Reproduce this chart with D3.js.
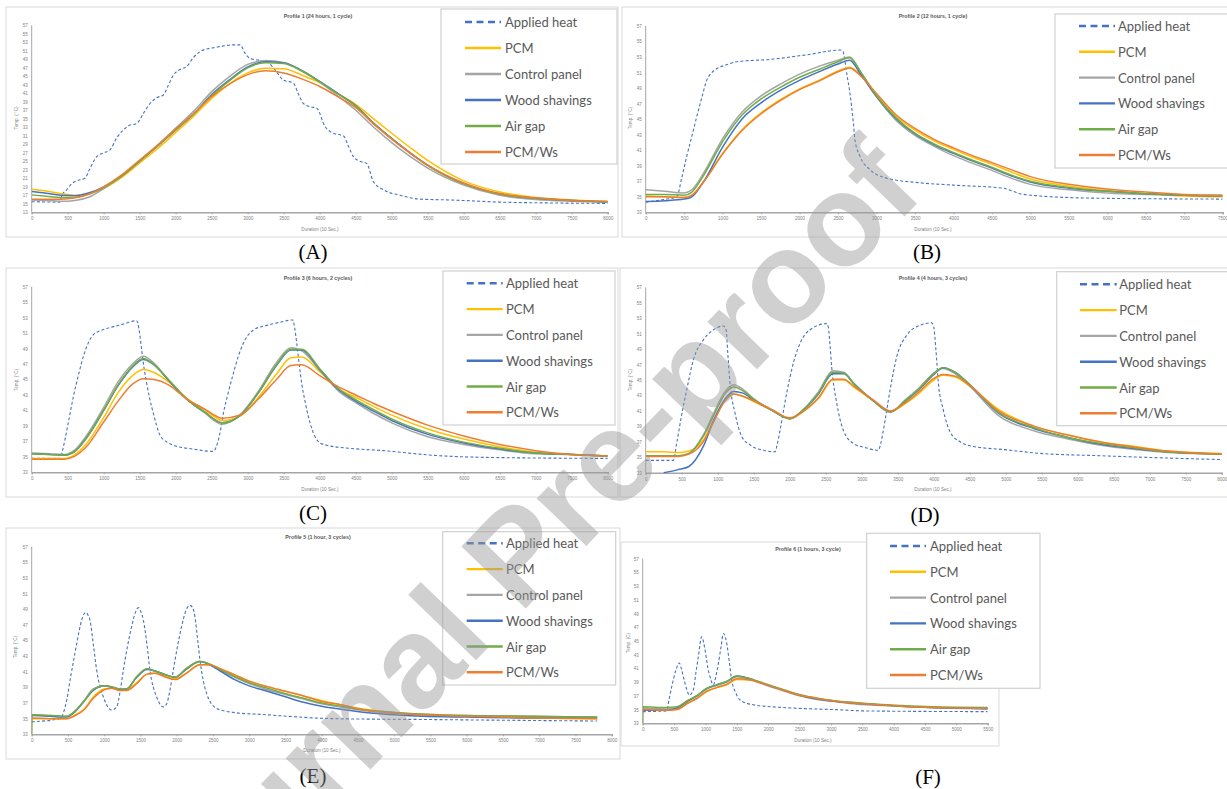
<!DOCTYPE html>
<html>
<head>
<meta charset="utf-8">
<script src="https://cdn.jsdelivr.net/npm/d3@7"></script>
<style>
  body { margin: 0; background: #fff; }
  svg { display: block; }
</style>
</head>
<body>
<div id="chart"></div>
<script>
// series shared by all six profiles
const seriesNames = ["Applied heat", "PCM", "Control panel", "Wood shavings", "Air gap", "PCM/Ws"];
const seriesColors = ["#4472C4", "#FFC000", "#A5A5A5", "#4472C4", "#70AD47", "#ED7D31"];

// Profile 1 (24 hours, 1 cycle)
const p1HeatT = [0, 390, 420, 486, 560, 625, 740, 800, 903, 1000, 1088, 1180, 1250, 1350, 1458, 1560, 1644, 1740, 1829, 1900, 1968, 2060, 2153, 2250, 2338, 2450, 2523, 2650, 2800, 2894, 2960, 3033, 3150, 3264, 3380, 3496, 3634, 3700, 3773, 3880, 3958, 4074, 4190, 4329, 4400, 4468, 4560, 4653, 4746, 4885, 5116, 5394, 5810, 6504, 7200, 8000];
const p1HeatV = [15.5, 15.4, 17.0, 18.3, 19.8, 20.4, 21.0, 23.0, 26.1, 27.0, 27.7, 30.5, 32.0, 33.4, 33.9, 36.5, 38.6, 40.0, 40.6, 43.0, 45.3, 46.6, 47.3, 49.5, 50.8, 51.5, 51.7, 52.1, 52.4, 52.4, 50.5, 49.2, 48.8, 48.5, 46.5, 44.1, 43.4, 41.0, 38.6, 37.8, 37.5, 33.2, 31.6, 31.0, 28.5, 26.1, 25.0, 24.5, 20.2, 18.3, 17.0, 16.1, 15.9, 15.4, 15.2, 15.1];
const p1T = [0, 200, 400, 600, 800, 1000, 1250, 1500, 1750, 2000, 2250, 2500, 2750, 3000, 3250, 3500, 3750, 4000, 4250, 4500, 4750, 5000, 5250, 5500, 6000, 6500, 7000, 7500, 8000];
const p1Pcm     = [18.4, 18.0, 17.4, 17.0, 17.5, 18.6, 21.2, 24.6, 28.0, 31.8, 35.6, 39.8, 43.3, 45.8, 46.9, 46.8, 45.3, 43.5, 40.9, 38.4, 35.0, 31.6, 28.3, 25.2, 20.4, 17.8, 16.5, 15.9, 15.5];
const p1Control = [15.9, 15.8, 15.6, 15.8, 16.6, 18.6, 21.5, 25.0, 28.8, 32.8, 36.8, 41.4, 45.0, 47.8, 48.7, 48.2, 46.2, 43.6, 40.4, 37.0, 33.0, 29.4, 26.2, 23.4, 19.4, 17.0, 16.0, 15.6, 15.4];
const p1Wood    = [17.9, 17.5, 17.0, 16.9, 17.6, 19.0, 21.6, 25.1, 28.6, 32.4, 36.2, 40.7, 44.2, 47.2, 48.4, 48.2, 46.4, 43.8, 41.0, 38.1, 34.0, 30.4, 27.1, 24.1, 19.8, 17.3, 16.3, 15.8, 15.5];
const p1Air     = [17.1, 16.8, 16.5, 16.5, 17.3, 18.8, 21.5, 25.0, 28.6, 32.4, 36.1, 40.5, 44.0, 47.0, 48.2, 48.0, 46.3, 43.7, 40.9, 38.0, 33.8, 30.3, 27.0, 24.0, 19.7, 17.3, 16.3, 15.8, 15.5];
const p1PcmWs   = [16.1, 16.1, 16.1, 16.4, 17.3, 19.0, 21.8, 25.3, 28.8, 32.6, 36.2, 40.2, 43.2, 45.4, 46.3, 45.8, 44.4, 42.6, 40.2, 37.6, 33.8, 30.2, 27.0, 24.1, 19.9, 17.4, 16.4, 15.8, 15.6];

// Profile 2 (12 hours, 1 cycle)
const p2HeatT = [0, 200, 403, 470, 533, 600, 663, 730, 793, 860, 923, 1050, 1183, 1616, 2100, 2526, 2560, 2620, 2656, 2700, 2721, 2786, 2916, 3133, 3566, 3999, 4649, 4866, 5126, 5500, 6000, 7500];
const p2HeatV = [34.3, 34.6, 35.0, 37.5, 40.2, 42.8, 45.3, 47.8, 50.0, 51.0, 51.5, 52.0, 52.4, 52.7, 53.3, 53.9, 53.8, 50.5, 48.3, 44.5, 42.3, 40.2, 38.5, 37.4, 36.8, 36.5, 36.1, 35.4, 35.1, 34.9, 34.8, 34.7];
const p2T = [0, 250, 500, 600, 750, 1000, 1250, 1500, 1750, 2000, 2250, 2500, 2650, 2800, 3000, 3250, 3500, 3750, 4000, 4250, 4500, 4750, 5000, 5500, 6000, 6500, 7000, 7500];
const p2Pcm     = [35.1, 35.0, 34.9, 35.2, 36.9, 40.6, 43.6, 45.8, 47.5, 48.9, 50.0, 51.2, 51.7, 50.7, 48.2, 45.4, 43.6, 42.2, 41.1, 40.1, 39.2, 38.2, 37.3, 36.4, 35.8, 35.4, 35.1, 35.0];
const p2Control = [35.9, 35.7, 35.5, 35.9, 38.0, 42.5, 45.9, 48.0, 49.5, 50.8, 51.8, 52.6, 53.0, 51.0, 47.9, 44.9, 42.9, 41.5, 40.3, 39.3, 38.4, 37.4, 36.6, 35.9, 35.5, 35.3, 35.2, 35.2];
const p2Wood    = [34.4, 34.5, 34.7, 35.0, 36.9, 41.4, 45.0, 47.1, 48.7, 50.0, 51.1, 52.1, 52.6, 50.7, 47.9, 45.1, 43.1, 41.7, 40.6, 39.6, 38.7, 37.7, 36.9, 36.1, 35.7, 35.4, 35.2, 35.1];
const p2Air     = [35.3, 35.3, 35.2, 35.6, 37.7, 42.1, 45.5, 47.6, 49.1, 50.4, 51.4, 52.4, 52.9, 51.0, 48.0, 45.2, 43.2, 41.8, 40.7, 39.7, 38.8, 37.8, 37.0, 36.2, 35.7, 35.4, 35.2, 35.2];
const p2PcmWs   = [35.0, 35.0, 34.9, 35.2, 36.9, 40.5, 43.5, 45.7, 47.4, 48.8, 49.9, 51.1, 51.6, 50.5, 48.3, 45.6, 43.8, 42.4, 41.3, 40.3, 39.4, 38.5, 37.6, 36.6, 36.0, 35.6, 35.3, 35.1];

// Profile 3 (6 hours, 2 cycles)
const p3HeatT = [0, 393, 440, 510, 579, 650, 718, 790, 856, 950, 1042, 1250, 1458, 1490, 1528, 1560, 1597, 1640, 1690, 1782, 1880, 1968, 2245, 2523, 2560, 2593, 2630, 2662, 2730, 2801, 2870, 2940, 3079, 3264, 3450, 3625, 3650, 3681, 3715, 3750, 3800, 3843, 3935, 4004, 4097, 4421, 4884, 5574, 6504, 8000];
const p3HeatV = [34.8, 34.8, 36.3, 39.5, 42.8, 45.6, 48.0, 49.8, 50.8, 51.3, 51.6, 52.1, 52.6, 51.5, 48.8, 46.5, 44.5, 42.5, 40.6, 37.8, 36.9, 36.5, 36.0, 35.7, 36.2, 37.2, 38.8, 40.6, 43.3, 45.8, 48.0, 49.7, 51.4, 52.0, 52.4, 52.7, 51.8, 49.7, 47.0, 44.5, 42.0, 40.2, 37.6, 36.8, 36.5, 36.1, 35.8, 35.2, 34.9, 34.8];
const p3T = [0, 250, 450, 600, 750, 1000, 1200, 1400, 1550, 1700, 1900, 2150, 2400, 2650, 2900, 3150, 3400, 3600, 3750, 4000, 4250, 4500, 4750, 5000, 5500, 6000, 6500, 7000, 7500, 8000];
const p3Pcm     = [34.8, 34.8, 34.8, 35.3, 36.6, 40.1, 43.3, 45.5, 46.3, 45.9, 44.7, 42.6, 41.1, 39.7, 40.3, 42.7, 45.7, 47.8, 47.9, 46.0, 43.9, 42.7, 41.5, 40.4, 38.6, 37.3, 36.3, 35.6, 35.3, 35.1];
const p3Control = [35.5, 35.4, 35.3, 35.9, 37.6, 41.4, 44.7, 47.0, 48.0, 47.1, 44.9, 42.5, 40.7, 39.2, 40.5, 43.5, 47.2, 49.1, 48.7, 46.2, 43.6, 42.0, 40.6, 39.4, 37.6, 36.6, 35.9, 35.4, 35.3, 35.1];
const p3Wood    = [35.4, 35.3, 35.2, 35.7, 37.3, 41.0, 44.2, 46.6, 47.6, 46.9, 44.9, 42.5, 40.8, 39.4, 40.4, 43.3, 46.8, 48.8, 48.8, 46.3, 43.8, 42.2, 40.9, 39.7, 37.9, 36.8, 36.0, 35.5, 35.3, 35.1];
const p3Air     = [35.4, 35.3, 35.2, 35.7, 37.3, 41.0, 44.3, 46.7, 47.7, 46.9, 45.0, 42.5, 40.8, 39.4, 40.4, 43.3, 46.9, 48.9, 48.9, 46.4, 43.9, 42.4, 41.1, 39.9, 38.1, 36.9, 36.1, 35.5, 35.3, 35.1];
const p3PcmWs   = [34.7, 34.7, 34.7, 35.1, 36.2, 39.5, 42.2, 44.4, 45.1, 45.0, 44.3, 42.5, 41.2, 40.0, 40.4, 42.5, 45.0, 46.8, 46.9, 45.5, 44.1, 43.0, 41.9, 40.9, 39.1, 37.7, 36.6, 35.8, 35.3, 35.1];

// Profile 4 (4 hours, 3 cycles)
const p4HeatT = [0, 384, 430, 500, 569, 662, 801, 940, 1079, 1116, 1140, 1171, 1241, 1333, 1449, 1634, 1796, 1830, 1866, 1958, 2051, 2167, 2282, 2514, 2537, 2560, 2583, 2653, 2745, 2884, 3069, 3231, 3265, 3301, 3394, 3486, 3625, 3764, 3972, 4000, 4030, 4065, 4134, 4227, 4366, 4551, 4968, 5477, 6301, 7236, 8000];
const p4HeatV = [34.6, 34.6, 36.8, 40.5, 43.7, 47.6, 50.2, 51.5, 52.0, 51.5, 48.5, 44.6, 40.7, 37.7, 36.6, 35.9, 35.7, 36.8, 38.5, 43.3, 47.2, 50.2, 51.5, 52.3, 51.8, 49.5, 46.7, 42.0, 38.5, 36.8, 36.2, 35.9, 36.8, 38.5, 43.7, 48.0, 50.8, 51.9, 52.4, 51.9, 49.0, 44.6, 41.1, 38.3, 37.0, 36.4, 36.0, 35.5, 35.2, 34.9, 34.7];
const p4T = [0, 250, 450, 600, 800, 950, 1100, 1220, 1350, 1500, 1750, 2000, 2200, 2400, 2600, 2750, 2900, 3150, 3400, 3600, 3800, 4000, 4130, 4300, 4500, 4900, 5400, 5850, 6300, 6800, 7250, 8000];
const p4Pcm     = [35.7, 35.7, 35.6, 35.8, 37.2, 39.9, 42.3, 43.2, 42.9, 42.2, 41.1, 40.0, 41.0, 42.6, 45.0, 45.0, 44.0, 42.4, 40.9, 41.9, 43.3, 45.0, 45.6, 45.4, 44.2, 41.2, 39.0, 37.9, 37.0, 36.4, 35.8, 35.5];
const p4Control = [35.2, 35.2, 35.2, 35.5, 37.9, 40.8, 43.5, 44.4, 43.8, 42.6, 41.1, 40.0, 41.3, 43.5, 46.2, 46.0, 44.5, 42.4, 40.8, 42.4, 44.0, 45.9, 46.5, 45.8, 44.2, 40.4, 38.4, 37.4, 36.6, 36.0, 35.6, 35.4];
const p4Wood    = [null, 33.0, 33.4, 33.8, 36.4, 39.9, 42.5, 43.5, 43.3, 42.4, 41.1, 40.0, 41.2, 43.2, 45.8, 45.8, 44.4, 42.4, 40.9, 42.2, 43.8, 45.7, 46.6, 46.0, 44.4, 40.7, 38.7, 37.6, 36.7, 36.1, 35.7, 35.4];
const p4Air     = [35.2, 35.2, 35.2, 35.5, 37.7, 40.5, 43.2, 44.1, 43.6, 42.5, 41.1, 40.0, 41.2, 43.3, 46.0, 45.9, 44.4, 42.4, 40.9, 42.3, 43.9, 45.8, 46.6, 46.0, 44.4, 40.8, 38.8, 37.6, 36.8, 36.2, 35.7, 35.4];
const p4PcmWs   = [35.1, 35.1, 35.1, 35.4, 37.0, 39.7, 42.3, 43.2, 42.9, 42.3, 41.2, 40.1, 41.0, 42.7, 45.1, 45.1, 44.1, 42.5, 41.0, 42.0, 43.5, 45.2, 45.7, 45.5, 44.3, 41.0, 39.0, 37.9, 37.0, 36.3, 35.8, 35.4];

// Profile 5 (1 hour, 3 cycles)
const p5HeatT = [0, 391, 483, 540, 597, 650, 689, 749, 780, 804, 850, 896, 988, 1103, 1172, 1220, 1264, 1320, 1379, 1430, 1471, 1500, 1540, 1590, 1631, 1723, 1815, 1861, 1910, 1953, 2010, 2068, 2130, 2183, 2220, 2252, 2290, 2321, 2413, 2551, 2780, 3240, 4159, 5354, 6500, 7800];
const p5HeatV = [34.6, 35.0, 37.4, 40.5, 43.4, 46.0, 47.6, 48.6, 48.2, 47.6, 44.5, 41.2, 37.8, 36.1, 36.5, 38.5, 41.2, 44.2, 46.8, 48.6, 49.2, 48.8, 47.6, 44.5, 41.2, 37.8, 36.5, 36.9, 38.8, 41.2, 44.2, 46.8, 48.9, 49.5, 49.2, 48.0, 45.0, 42.5, 38.2, 36.3, 35.8, 35.5, 35.0, 34.9, 34.8, 34.7];
const p5T = [0, 5, 250, 480, 600, 720, 850, 1000, 1100, 1220, 1310, 1450, 1590, 1700, 1850, 1980, 2130, 2320, 2450, 2600, 2800, 3000, 3250, 3500, 3750, 4000, 4200, 4600, 5000, 5400, 6000, 6900, 7800];
const p5Pcm     = [35.0, 35.0, 35.0, 35.0, 35.5, 36.2, 37.8, 38.8, 38.9, 38.6, 38.7, 39.6, 40.7, 40.8, 40.4, 40.1, 40.8, 41.9, 41.9, 41.4, 40.6, 39.8, 39.1, 38.5, 37.9, 37.3, 36.9, 36.2, 35.8, 35.5, 35.3, 35.1, 35.0];
const p5Control = [35.5, 35.5, 35.4, 35.3, 36.0, 37.3, 38.8, 39.2, 39.1, 38.8, 38.8, 40.4, 41.4, 41.1, 40.6, 40.3, 41.4, 42.3, 42.0, 41.2, 40.3, 39.5, 38.7, 38.1, 37.5, 36.9, 36.6, 36.0, 35.7, 35.5, 35.4, 35.3, 35.2];
const p5Wood    = [35.4, 35.4, 35.3, 35.2, 35.9, 37.2, 38.6, 39.2, 39.0, 38.7, 38.8, 40.3, 41.3, 41.1, 40.6, 40.3, 41.3, 42.3, 41.9, 41.1, 40.0, 39.2, 38.5, 37.8, 37.1, 36.6, 36.3, 35.8, 35.5, 35.3, 35.2, 35.1, 35.1];
const p5Air     = [33.0, 35.5, 35.4, 35.3, 36.0, 37.2, 38.7, 39.2, 39.1, 38.8, 38.8, 40.4, 41.4, 41.1, 40.6, 40.3, 41.4, 42.3, 42.0, 41.3, 40.4, 39.6, 38.9, 38.2, 37.6, 37.0, 36.7, 36.1, 35.8, 35.6, 35.4, 35.3, 35.2];
const p5PcmWs   = [35.1, 35.1, 35.0, 35.0, 35.4, 36.1, 37.6, 38.7, 38.9, 38.6, 38.6, 39.5, 40.7, 40.8, 40.3, 40.0, 40.8, 41.9, 41.9, 41.4, 40.6, 39.8, 39.1, 38.5, 37.9, 37.2, 36.9, 36.1, 35.7, 35.5, 35.3, 35.1, 35.0];

// Profile 6 (1 hours, 3 cycle)
const p6HeatT = [0, 383, 420, 462, 531, 584, 615, 648, 700, 744, 808, 850, 887, 940, 994, 1040, 1073, 1126, 1165, 1206, 1250, 1286, 1339, 1380, 1419, 1480, 1552, 1764, 2242, 3039, 3571, 5500];
const p6HeatV = [34.7, 34.8, 36.5, 38.3, 40.8, 41.8, 41.0, 39.8, 38.0, 37.1, 37.9, 40.5, 42.7, 45.6, 43.7, 41.0, 39.8, 38.6, 39.8, 41.7, 44.2, 46.1, 44.7, 42.0, 39.3, 37.5, 36.4, 35.7, 35.3, 35.0, 34.8, 34.7];
const p6T = [0, 5, 380, 540, 730, 860, 1020, 1180, 1340, 1500, 1710, 1980, 2250, 2500, 2750, 3040, 3300, 3570, 4100, 4600, 5500];
const p6Pcm     = [34.9, 34.9, 34.9, 35.0, 36.0, 36.6, 37.6, 38.2, 38.6, 39.4, 39.3, 38.6, 37.8, 37.1, 36.7, 36.3, 36.0, 35.8, 35.5, 35.3, 35.2];
const p6Control = [35.2, 35.2, 35.1, 35.2, 36.3, 36.9, 38.0, 38.5, 39.0, 39.8, 39.4, 38.5, 37.7, 37.0, 36.5, 36.2, 35.9, 35.7, 35.5, 35.3, 35.2];
const p6Wood    = [34.9, 34.9, 34.9, 35.2, 36.3, 37.0, 38.1, 38.6, 39.1, 39.9, 39.5, 38.6, 37.8, 37.1, 36.6, 36.2, 36.0, 35.8, 35.5, 35.3, 35.1];
const p6Air     = [33.0, 35.4, 35.3, 35.4, 36.4, 37.0, 38.1, 38.6, 39.1, 39.9, 39.5, 38.7, 37.9, 37.2, 36.7, 36.3, 36.1, 35.9, 35.6, 35.4, 35.3];
const p6PcmWs   = [35.0, 35.0, 34.9, 35.0, 36.0, 36.6, 37.7, 38.2, 38.7, 39.5, 39.3, 38.6, 37.8, 37.1, 36.7, 36.3, 36.0, 35.8, 35.5, 35.3, 35.2];

const W = 1227, H = 789;
const svg = d3.select("#chart").append("svg").attr("width", W).attr("height", H);

// panel layout (pixel boxes), data hooked up from the arrays above
const panels = [
  { title: "Profile 1 (24 hours, 1 cycle)", label: "(A)", yTitle: "Temp. ( °C)",
    frame: [6, 7, 612, 230], plot: [31.7, 607.7, 25.3, 212.3], xMax: 8000, yMin: 13,
    titleXY: [318, 16], xTitleXY: [320, 229], yTitleXY: [16, 118],
    legend: [441, 9, 176, 155, 22, 26, 465, 501, 505], labelXY: [313, 252],
    heatT: p1HeatT, heatV: p1HeatV, t: p1T, vals: [p1Pcm, p1Control, p1Wood, p1Air, p1PcmWs] },
  { title: "Profile 2 (12 hours, 1 cycle)", label: "(B)", yTitle: "Temp. (°C)",
    frame: [622, 7, 610, 230], plot: [645.7, 1222.6, 26, 212.3], xMax: 7500, yMin: 33,
    titleXY: [933, 16], xTitleXY: [933, 229], yTitleXY: [630, 118],
    legend: [1055, 14, 180, 154, 26, 25.8, 1079, 1115, 1118], labelXY: [927, 252],
    heatT: p2HeatT, heatV: p2HeatV, t: p2T, vals: [p2Pcm, p2Control, p2Wood, p2Air, p2PcmWs] },
  { title: "Profile 3 (6 hours, 2 cycles)", label: "(C)", yTitle: "Temp. (°C)",
    frame: [6, 268, 612, 229], plot: [31.7, 607.7, 286.7, 472.3], xMax: 8000, yMin: 33,
    titleXY: [318, 278], xTitleXY: [320, 489], yTitleXY: [16, 380],
    legend: [443, 271, 172, 154, 283.3, 25.8, 466.7, 502.7, 506], labelXY: [313, 513],
    heatT: p3HeatT, heatV: p3HeatV, t: p3T, vals: [p3Pcm, p3Control, p3Wood, p3Air, p3PcmWs] },
  { title: "Profile 4 (4 hours, 3 cycles)", label: "(D)", yTitle: "Temp. (°C)",
    frame: [620, 268, 612, 229], plot: [645.7, 1221.7, 287.3, 472.7], xMax: 8000, yMin: 33,
    titleXY: [933, 278], xTitleXY: [933, 489], yTitleXY: [630, 380],
    legend: [1056.7, 271.7, 180, 154, 284.3, 25.8, 1080, 1116.7, 1119.3], labelXY: [925, 515],
    heatT: p4HeatT, heatV: p4HeatV, t: p4T, vals: [p4Pcm, p4Control, p4Wood, p4Air, p4PcmWs] },
  { title: "Profile 5 (1 hour, 3 cycles)", label: "(E)", yTitle: "Temp. (°C)",
    frame: [6, 528, 614, 231], plot: [31.7, 611.7, 546.7, 734.3], xMax: 8000, yMin: 33,
    titleXY: [318, 537], xTitleXY: [322, 750], yTitleXY: [15, 647],
    legend: [442.7, 531.7, 173, 153.3, 543.3, 25.8, 466.7, 502.7, 506], labelXY: [313, 776],
    heatT: p5HeatT, heatV: p5HeatV, t: p5T, vals: [p5Pcm, p5Control, p5Wood, p5Air, p5PcmWs] },
  { title: "Profile 6 (1 hours, 3 cycle)", label: "(F)", yTitle: "Temp. (C)",
    frame: [621, 542, 378, 204], plot: [642.7, 987.7, 558.7, 723.3], xMax: 5500, yMin: 33,
    titleXY: [808, 549], xTitleXY: [813, 740], yTitleXY: [628, 643],
    legend: [866.7, 533.3, 173.3, 155, 546, 25.8, 890, 926, 930], labelXY: [928, 777],
    heatT: p6HeatT, heatV: p6HeatV, t: p6T, vals: [p6Pcm, p6Control, p6Wood, p6Air, p6PcmWs] }
];

const tickFont = "'Liberation Sans', Arial, sans-serif";
const legendFont = "Lato, 'Open Sans', sans-serif";

function drawPanel(p, idx) {
  const g = svg.append("g");
  const [fx, fy, fw, fh] = p.frame;
  g.append("rect").attr("x", fx).attr("y", fy).attr("width", fw).attr("height", fh)
    .attr("fill", "#fff").attr("stroke", "#d9d9d9").attr("stroke-width", 1);

  const [x0, x1, yTop, yBot] = p.plot;
  const x = d3.scaleLinear().domain([0, p.xMax]).range([x0, x1]);
  const y = d3.scaleLinear().domain([p.yMin, 57]).range([yBot, yTop]);

  // y axis: labels only, then a plain line
  const yAxis = g.append("g").attr("transform", `translate(${x0},0)`)
    .call(d3.axisLeft(y).tickValues(d3.range(p.yMin, 58, 2)).tickSize(0).tickPadding(4));
  yAxis.select(".domain").remove();
  yAxis.selectAll("text").attr("font-size", 4.5).attr("font-family", tickFont).attr("fill", "#7f7f7f");
  g.append("line").attr("x1", x0).attr("x2", x0).attr("y1", yTop).attr("y2", yBot)
    .attr("stroke", "#a6a6a6").attr("stroke-width", 1);

  const xAxis = g.append("g").attr("transform", `translate(0,${yBot})`)
    .call(d3.axisBottom(x).tickValues(d3.range(0, p.xMax + 1, 500)).tickSize(2).tickPadding(3).tickFormat(d3.format("d")));
  xAxis.select(".domain").attr("stroke", "#a6a6a6").attr("stroke-width", 1.5);
  xAxis.selectAll(".tick line").attr("stroke", "#a6a6a6");
  xAxis.selectAll("text").attr("font-size", 4.5).attr("font-family", tickFont).attr("fill", "#7f7f7f");

  g.append("text").attr("x", p.titleXY[0]).attr("y", p.titleXY[1]).attr("text-anchor", "middle")
    .attr("dominant-baseline", "central").attr("font-family", tickFont).attr("font-size", 5.3)
    .attr("font-weight", "bold").attr("fill", "#595959").text(p.title);
  g.append("text").attr("x", p.xTitleXY[0]).attr("y", p.xTitleXY[1]).attr("text-anchor", "middle")
    .attr("dominant-baseline", "central").attr("font-family", tickFont).attr("font-size", 4.6)
    .attr("fill", "#7f7f7f").text("Duration (10 Sec.)");
  g.append("text").attr("transform", `translate(${p.yTitleXY[0]},${p.yTitleXY[1]}) rotate(-90)`)
    .attr("text-anchor", "middle").attr("dominant-baseline", "central").attr("font-family", tickFont)
    .attr("font-size", 4.6).attr("fill", "#7f7f7f").text(p.yTitle);

  // clip to the plot box
  const clipId = "clip" + idx;
  g.append("clipPath").attr("id", clipId).append("rect")
    .attr("x", x0).attr("y", yTop).attr("width", x1 - x0).attr("height", yBot - yTop + 1);
  const lines = g.append("g").attr("clip-path", `url(#${clipId})`);

  const line = d3.line().defined(d => d[1] != null)
    .x(d => x(d[0])).y(d => y(d[1])).curve(d3.curveMonotoneX);

  const heat = p.heatT.map((t, i) => [t, p.heatV[i]]);
  lines.append("path").attr("d", line(heat)).attr("fill", "none")
    .attr("stroke", seriesColors[0]).attr("stroke-width", 1.1).attr("stroke-dasharray", "3,2.2");

  p.vals.forEach((vals, k) => {
    const pts = p.t.map((t, i) => [t, vals[i]]);
    lines.append("path").attr("d", line(pts)).attr("fill", "none")
      .attr("stroke", seriesColors[k + 1]).attr("stroke-width", 1.5);
  });

  // legend box
  const [lx, ly, lw, lh, row0, gap, s0, s1, tx] = p.legend;
  const lg = svg.append("g");
  lg.append("rect").attr("x", lx).attr("y", ly).attr("width", lw).attr("height", lh)
    .attr("fill", "#fff").attr("stroke", "#d0d0d0").attr("stroke-width", 1.2);
  seriesNames.forEach((name, k) => {
    const yy = row0 + k * gap;
    lg.append("line").attr("x1", s0).attr("x2", s1).attr("y1", yy).attr("y2", yy)
      .attr("stroke", seriesColors[k]).attr("stroke-width", 2.4)
      .attr("stroke-dasharray", k === 0 ? "7,4.5" : null);
    lg.append("text").attr("x", tx).attr("y", yy).attr("dominant-baseline", "central")
      .attr("font-family", legendFont).attr("font-size", 13).attr("fill", "#595959").text(name);
  });

  svg.append("text").attr("x", p.labelXY[0]).attr("y", p.labelXY[1]).attr("text-anchor", "middle")
    .attr("dominant-baseline", "central").attr("font-family", "'Liberation Serif', 'Times New Roman', serif")
    .attr("font-size", 21).attr("fill", "#000").text(p.label);
}

panels.forEach(drawPanel);

// journal watermark across the figure
svg.append("text")
  .attr("transform", "translate(515,555) rotate(-46)")
  .attr("text-anchor", "middle").attr("dominant-baseline", "central")
  .attr("font-family", "'Liberation Sans', Arial, sans-serif").attr("font-weight", "bold")
  .attr("font-size", 130).attr("fill", "#999").attr("opacity", 0.45)
  .text("Journal Pre-proof");
</script>
</body>
</html>
